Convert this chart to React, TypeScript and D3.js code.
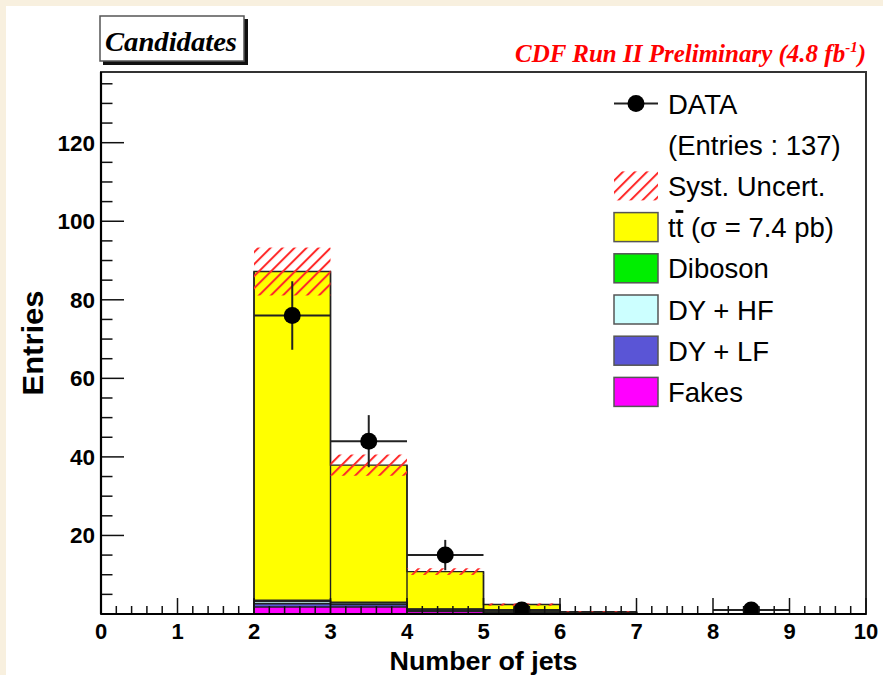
import React from "react";
import * as d3 from "d3";

// Bin edges 0..10, one value per unit-width bin
const binEdges = [0, 1, 2, 3, 4, 5, 6, 7, 8, 9, 10];
const fakes = [0, 0, 1.8, 1.8, 0.6, 0.3, 0.15, 0, 0, 0];
const dyLF = [0, 0, 0.8, 0.6, 0.3, 0.1, 0.05, 0, 0, 0];
const dyHF = [0, 0, 0.6, 0.4, 0.3, 0.1, 0.05, 0, 0, 0];
const diboson = [0, 0, 0.3, 0.2, 0.1, 0.05, 0, 0, 0, 0];
const ttbar = [0, 0, 83.7, 34.9, 9.5, 1.85, 0.35, 0.1, 0, 0];
const systUncert = [0, 0, 6.1, 2.7, 0.85, 0.3, 0.1, 0.05, 0, 0];
const dataCounts = [0, 0, 76, 44, 15, 1, 0, 0, 1, 0];

const xTickLabels = ["0", "1", "2", "3", "4", "5", "6", "7", "8", "9", "10"];
const yTickLabels = ["20", "40", "60", "80", "100", "120"];

const stackOrder = [
  { name: "Fakes", values: fakes, color: "#ff00ff" },
  { name: "DY + LF", values: dyLF, color: "#5a55d6" },
  { name: "DY + HF", values: dyHF, color: "#ccffff" },
  { name: "Diboson", values: diboson, color: "#00ee00" },
  { name: "ttbar", values: ttbar, color: "#ffff00" },
];

const W = 883;
const H = 675;
const frame = { left: 101, right: 866, top: 72, bottom: 614 };

export default function App() {
  const x = d3.scaleLinear().domain([0, 10]).range([frame.left, frame.right]);
  const y = d3.scaleLinear().domain([0, 138]).range([frame.bottom, frame.top]);

  // cumulative sums from bottom of stack
  const cumulative: number[][] = [];
  stackOrder.forEach((s, i) => {
    cumulative.push(s.values.map((v, b) => v + (i > 0 ? cumulative[i - 1][b] : 0)));
  });
  const total = cumulative[cumulative.length - 1];

  const stepArea = (vals: number[]) => {
    const pts = binEdges.map((e, i) => [e, vals[Math.min(i, vals.length - 1)]] as [number, number]);
    return d3
      .area<[number, number]>()
      .x((d) => x(d[0]))
      .y0(y(0))
      .y1((d) => y(d[1]))
      .curve(d3.curveStepAfter)(pts) as string;
  };
  const stepLine = (vals: number[]) => {
    const pts = binEdges.map((e, i) => [e, vals[Math.min(i, vals.length - 1)]] as [number, number]);
    return d3
      .line<[number, number]>()
      .x((d) => x(d[0]))
      .y((d) => y(d[1]))
      .curve(d3.curveStepAfter)(pts) as string;
  };

  const xMajor = d3.range(0, 11, 1);
  const xMinor = d3.range(0, 10.001, 0.2).filter((v) => Math.abs(v - Math.round(v)) > 1e-6);
  const yMajor = d3.range(20, 121, 20);
  const yMinor = d3.range(5, 136, 5).filter((v) => v % 20 !== 0);

  const legendRows = [
    "DATA",
    "(Entries : 137)",
    "Syst. Uncert.",
    "tt",
    "Diboson",
    "DY + HF",
    "DY + LF",
    "Fakes",
  ];
  const legendY0 = 103.5;
  const legendStep = 41.2;
  const boxX = 614;
  const boxW = 44;
  const boxH = 29;
  const textX = 668;
  const legendFont = 27.5;

  const legendFill: Record<number, string> = {
    3: "#ffff00",
    4: "#00ee00",
    5: "#ccffff",
    6: "#5a55d6",
    7: "#ff00ff",
  };

  return (
    <svg
      width={W}
      height={H}
      style={{ position: "absolute", left: 0, top: 0 }}
      fontFamily="'Liberation Sans', Arial, sans-serif"
    >
      <defs>
        <pattern
          id="hatch"
          patternUnits="userSpaceOnUse"
          width={8.5}
          height={8.5}
          patternTransform="rotate(45)"
        >
          <line x1={1} y1={0} x2={1} y2={8.5} stroke="#ff2a2a" strokeWidth={2} />
        </pattern>
        <clipPath id="plotClip">
          <rect x={frame.left} y={frame.top} width={frame.right - frame.left} height={frame.bottom - frame.top} />
        </clipPath>
      </defs>

      {/* canvas */}
      <rect x={0} y={0} width={W} height={H} fill="#f8f0df" />
      <rect x={6} y={6} width={W - 6} height={H - 6} fill="#ffffff" />

      {/* title box */}
      <rect x={103} y={19} width={145} height={46} fill="#111" />
      <rect x={100} y={16} width={144} height={45} fill="#fff" stroke="#555" strokeWidth={1.5} />
      <text
        x={105}
        y={51}
        fontFamily="'Liberation Serif', 'Times New Roman', serif"
        fontWeight="bold"
        fontStyle="italic"
        fontSize={28}
        textLength={132}
        lengthAdjust="spacingAndGlyphs"
        fill="#000"
      >
        Candidates
      </text>

      {/* experiment label */}
      <text
        x={866}
        y={62}
        textAnchor="end"
        fontFamily="'Liberation Serif', 'Times New Roman', serif"
        fontWeight="bold"
        fontStyle="italic"
        fontSize={25}
        fill="#ff0000"
      >
        CDF Run II Preliminary (4.8 fb
        <tspan fontSize={15} dy={-10}>-1</tspan>
        <tspan dy={10}>)</tspan>
      </text>

      {/* frame */}
      <rect
        x={frame.left}
        y={frame.top}
        width={frame.right - frame.left}
        height={frame.bottom - frame.top}
        fill="#fff"
        stroke="#333"
        strokeWidth={2}
      />

      <g clipPath="url(#plotClip)">
        {/* stacked histograms, drawn from the top of the stack down */}
        {stackOrder
          .map((s, i) => ({ ...s, cum: cumulative[i] }))
          .reverse()
          .map((s) => (
            <g key={s.name}>
              <path d={stepArea(s.cum)} fill={s.color} />
              <path d={stepLine(s.cum)} fill="none" stroke="#222" strokeWidth={1.4} />
            </g>
          ))}
        {/* vertical bin edges of the total stack */}
        {total.map((t, i) =>
          t > 0 ? (
            <g key={"edge" + i}>
              <line x1={x(binEdges[i])} x2={x(binEdges[i])} y1={y(0)} y2={y(Math.max(t, i > 0 ? total[i - 1] : 0))} stroke="#222" strokeWidth={1.4} />
            </g>
          ) : null
        )}

        {/* systematic uncertainty band */}
        {total.map((t, i) =>
          systUncert[i] > 0 ? (
            <rect
              key={"syst" + i}
              x={x(binEdges[i])}
              width={x(binEdges[i + 1]) - x(binEdges[i])}
              y={y(t + systUncert[i])}
              height={y(t - systUncert[i]) - y(t + systUncert[i])}
              fill="url(#hatch)"
            />
          ) : null
        )}

        {/* data with statistical errors */}
        {dataCounts.map((n, i) => {
          if (n <= 0) return null;
          const cx = x(binEdges[i] + 0.5);
          const err = Math.sqrt(n);
          return (
            <g key={"data" + i}>
              <line x1={x(binEdges[i])} x2={x(binEdges[i + 1])} y1={y(n)} y2={y(n)} stroke="#222" strokeWidth={2} />
              <line x1={cx} x2={cx} y1={y(n + err)} y2={y(Math.max(0, n - err))} stroke="#222" strokeWidth={2} />
              <circle cx={cx} cy={y(n)} r={8.5} fill="#000" />
            </g>
          );
        })}
      </g>

      {/* x axis ticks */}
      {xMajor.map((v) => (
        <line key={"xM" + v} x1={x(v)} x2={x(v)} y1={frame.bottom} y2={frame.bottom - 16} stroke="#111" strokeWidth={1.5} />
      ))}
      {xMinor.map((v) => (
        <line key={"xm" + v} x1={x(v)} x2={x(v)} y1={frame.bottom} y2={frame.bottom - 8} stroke="#111" strokeWidth={1.5} />
      ))}
      {/* y axis ticks */}
      {yMajor.map((v) => (
        <line key={"yM" + v} x1={frame.left} x2={frame.left + 23} y1={y(v)} y2={y(v)} stroke="#111" strokeWidth={1.5} />
      ))}
      {yMinor.map((v) => (
        <line key={"ym" + v} x1={frame.left} x2={frame.left + 11.5} y1={y(v)} y2={y(v)} stroke="#111" strokeWidth={1.5} />
      ))}
      {/* axis lines */}
      <line x1={frame.left} x2={frame.right} y1={frame.bottom} y2={frame.bottom} stroke="#000" strokeWidth={2.2} />
      <line x1={frame.left} x2={frame.left} y1={frame.top} y2={frame.bottom} stroke="#000" strokeWidth={2.2} />

      {/* tick labels */}
      {xMajor.map((v, i) => (
        <text key={"xl" + v} x={x(v)} y={639} textAnchor="middle" fontWeight="bold" fontSize={22} fill="#000">
          {xTickLabels[i]}
        </text>
      ))}
      {yMajor.map((v, i) => (
        <text key={"yl" + v} x={95} y={y(v) + 8} textAnchor="end" fontWeight="bold" fontSize={22.5} fill="#000">
          {yTickLabels[i]}
        </text>
      ))}

      {/* axis titles */}
      <text x={(frame.left + frame.right) / 2} y={670} textAnchor="middle" fontWeight="bold" fontSize={26} textLength={188} lengthAdjust="spacingAndGlyphs" fill="#000">
        Number of jets
      </text>
      <text
        transform={`translate(43, ${(frame.top + frame.bottom) / 2}) rotate(-90)`}
        textAnchor="middle"
        fontWeight="bold"
        fontSize={29}
        textLength={105}
        lengthAdjust="spacingAndGlyphs"
        fill="#000"
      >
        Entries
      </text>

      {/* legend */}
      {legendRows.map((label, i) => {
        const cy = legendY0 + i * legendStep;
        return (
          <g key={"leg" + i}>
            {i === 0 && (
              <g>
                <line x1={boxX} x2={boxX + boxW} y1={cy} y2={cy} stroke="#222" strokeWidth={2} />
                <circle cx={boxX + boxW / 2} cy={cy} r={8.5} fill="#000" />
              </g>
            )}
            {i === 2 && (
              <rect x={boxX} y={cy - boxH / 2} width={boxW} height={boxH} fill="url(#hatch)" />
            )}
            {legendFill[i] && (
              <rect x={boxX} y={cy - boxH / 2} width={boxW} height={boxH} fill={legendFill[i]} stroke="#555" strokeWidth={1.5} />
            )}
            {i === 3 ? (
              <text x={textX} y={cy + 10} fontSize={legendFont} fill="#000">
                t<tspan textDecoration="overline" style={{ textDecoration: "overline" }}>t</tspan> (σ = 7.4 pb)
              </text>
            ) : (
              <text x={textX} y={cy + 10} fontSize={legendFont} fill="#000">
                {label}
              </text>
            )}
          </g>
        );
      })}
    </svg>
  );
}
